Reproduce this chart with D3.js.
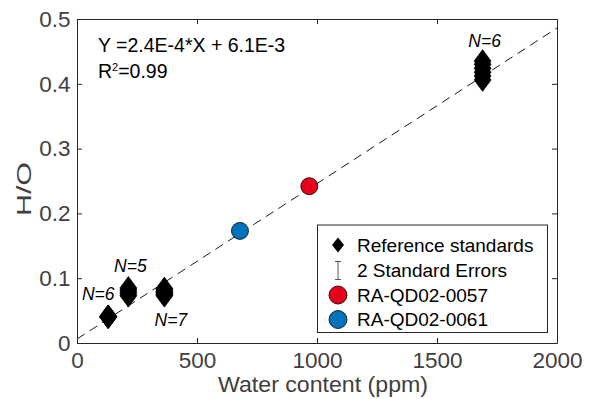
<!DOCTYPE html>
<html>
<head>
<meta charset="utf-8">
<script src="https://cdn.jsdelivr.net/npm/d3@7"></script>
<style>
  body { margin: 0; background: #fff; }
  svg { display: block; font-family: Helvetica, Arial, "Liberation Sans", sans-serif; }
</style>
</head>
<body>
<script>
const width = 590, height = 399;

// reference standards: x (ppm) and the individual H/O measurements
const stdWater = [130, 214, 364, 1690];
const stdHO = [
  [0.040, 0.041, 0.040, 0.041, 0.040, 0.041],
  [0.073, 0.076, 0.079, 0.082, 0.085],
  [0.073, 0.075, 0.077, 0.078, 0.080, 0.082, 0.084],
  [0.406, 0.412, 0.418, 0.424, 0.430, 0.435]
];
const stdN = ["N=6", "N=5", "N=7", "N=6"];

const sampleNames = ["RA-QD02-0057", "RA-QD02-0061"];
const sampleWater = [968, 679];
const sampleHO = [0.242, 0.173];
const sampleColors = ["#e6001a", "#0072bd"];

const fitSlope = 2.4e-4, fitIntercept = 6.1e-3;

const xTicks = [0, 500, 1000, 1500, 2000];
const yTicks = [0, 0.1, 0.2, 0.3, 0.4, 0.5];
const yTickLabels = ["0", "0.1", "0.2", "0.3", "0.4", "0.5"];

const margin = {top: 19, right: 33, bottom: 56, left: 77};

const x = d3.scaleLinear().domain([0, 2000]).range([margin.left, width - margin.right]);
const y = d3.scaleLinear().domain([0, 0.5]).range([height - margin.bottom, margin.top]);

const svg = d3.select("body").append("svg")
    .attr("width", width).attr("height", height);

const axisCol = "#262626", labelCol = "#404040";

// fit line
svg.append("line")
    .attr("x1", x(0)).attr("y1", y(fitIntercept))
    .attr("x2", x(2000)).attr("y2", y(fitIntercept + fitSlope * 2000))
    .attr("stroke", "#000").attr("stroke-width", 0.9)
    .attr("stroke-dasharray", "9,6");

// diamonds
const diamond = (cx, cy, w, h) => `M${cx},${cy - h / 2}L${cx + w / 2},${cy}L${cx},${cy + h / 2}L${cx - w / 2},${cy}Z`;

const stdPoints = stdWater.flatMap((w, i) => stdHO[i].map(v => ({w, v})));
svg.append("g").selectAll("path")
    .data(stdPoints)
    .join("path")
    .attr("d", d => diamond(x(d.w), y(d.v), 17, 23))
    .attr("fill", "#000")
    .attr("stroke", "#000").attr("stroke-width", 0.6);

// N labels (offset from top / bottom marker)
const nOffsets = [[-10, -16.5], [2, -16], [6.5, 30.5], [2, -14.5]];
svg.append("g").selectAll("text")
    .data(stdWater)
    .join("text")
    .attr("x", (d, i) => x(d) + nOffsets[i][0])
    .attr("y", (d, i) => {
      const vals = stdHO[i];
      const ref = nOffsets[i][1] < 0 ? d3.max(vals) : d3.min(vals);
      return y(ref) + nOffsets[i][1];
    })
    .attr("text-anchor", "middle")
    .attr("font-style", "italic")
    .attr("font-size", 17.5)
    .attr("fill", "#000")
    .text((d, i) => stdN[i]);

// samples
svg.append("g").selectAll("circle")
    .data(sampleWater)
    .join("circle")
    .attr("cx", d => x(d))
    .attr("cy", (d, i) => y(sampleHO[i]))
    .attr("r", 8.5)
    .attr("fill", (d, i) => sampleColors[i])
    .attr("stroke", "#000").attr("stroke-width", 0.8);

// axes (MATLAB style box, inward ticks)
const xAxis = d3.axisBottom(x).tickValues(xTicks).tickFormat(d3.format("d"))
    .tickSize(-5).tickSizeOuter(0).tickPadding(9);
const gx = svg.append("g").attr("transform", `translate(0,${y(0)})`).call(xAxis);
const yAxis = d3.axisLeft(y).tickValues(yTicks).tickFormat((d, i) => yTickLabels[i])
    .tickSize(-5).tickSizeOuter(0).tickPadding(6.5);
const gy = svg.append("g").attr("transform", `translate(${x(0)},0)`).call(yAxis);
const gxt = svg.append("g").attr("transform", `translate(0,${y(0.5)})`)
    .call(d3.axisTop(x).tickValues(xTicks).tickSize(-5).tickSizeOuter(0).tickFormat(""));
const gyr = svg.append("g").attr("transform", `translate(${x(2000)},0)`)
    .call(d3.axisRight(y).tickValues(yTicks).tickSize(-5).tickSizeOuter(0).tickFormat(""));

[gx, gy, gxt, gyr].forEach(g => {
  g.select(".domain").attr("stroke", axisCol).attr("stroke-width", 1);
  g.selectAll(".tick line").attr("stroke", axisCol);
  g.selectAll(".tick text").attr("fill", labelCol).attr("font-size", 22.5)
      .attr("font-family", "Helvetica, Arial, 'Liberation Sans', sans-serif");
});

// axis titles
svg.append("text")
    .attr("x", 323).attr("y", 392)
    .attr("text-anchor", "middle")
    .attr("font-size", 22).attr("fill", labelCol)
    .attr("textLength", 210).attr("lengthAdjust", "spacingAndGlyphs")
    .text("Water content (ppm)");
svg.append("text")
    .attr("transform", `translate(31,189) rotate(-90)`)
    .attr("text-anchor", "middle")
    .attr("font-size", 21).attr("fill", labelCol)
    .attr("textLength", 54).attr("lengthAdjust", "spacingAndGlyphs")
    .text("H/O");

// equation
svg.append("text")
    .attr("x", 98).attr("y", 51.7)
    .attr("font-size", 19.5).attr("fill", "#000")
    .text("Y =2.4E-4*X + 6.1E-3");
const r2 = svg.append("text")
    .attr("x", 98).attr("y", 78.3)
    .attr("font-size", 19.5).attr("fill", "#000");
r2.append("tspan").text("R");
r2.append("tspan").attr("font-size", 11).attr("dy", -7).text("2");
r2.append("tspan").attr("dy", 7).text("=0.99");

// legend
const lg = svg.append("g");
lg.append("rect")
    .attr("x", 317.5).attr("y", 225).attr("width", 230).attr("height", 107.5)
    .attr("fill", "#fff").attr("stroke", axisCol).attr("stroke-width", 1);

const legendLabels = ["Reference standards", "2 Standard Errors"].concat(sampleNames);
const rowY = [245, 270.5, 295, 319.5];
const mx = 338;
lg.append("path").attr("d", diamond(mx, rowY[0], 12, 15)).attr("fill", "#000");
lg.append("path")
    .attr("d", `M${mx - 3},${rowY[1] - 9}H${mx + 3}M${mx},${rowY[1] - 9}V${rowY[1] + 9}M${mx - 3},${rowY[1] + 9}H${mx + 3}`)
    .attr("stroke", "#555").attr("stroke-width", 1).attr("fill", "none");
lg.selectAll("circle")
    .data(sampleColors)
    .join("circle")
    .attr("cx", mx).attr("cy", (d, i) => rowY[i + 2])
    .attr("r", 9).attr("fill", d => d)
    .attr("stroke", "#000").attr("stroke-width", 0.8);
lg.selectAll("text")
    .data(legendLabels)
    .join("text")
    .attr("x", 357).attr("y", (d, i) => rowY[i])
    .attr("dy", "0.35em")
    .attr("font-size", 19).attr("fill", "#000")
    .text(d => d);
</script>
</body>
</html>
